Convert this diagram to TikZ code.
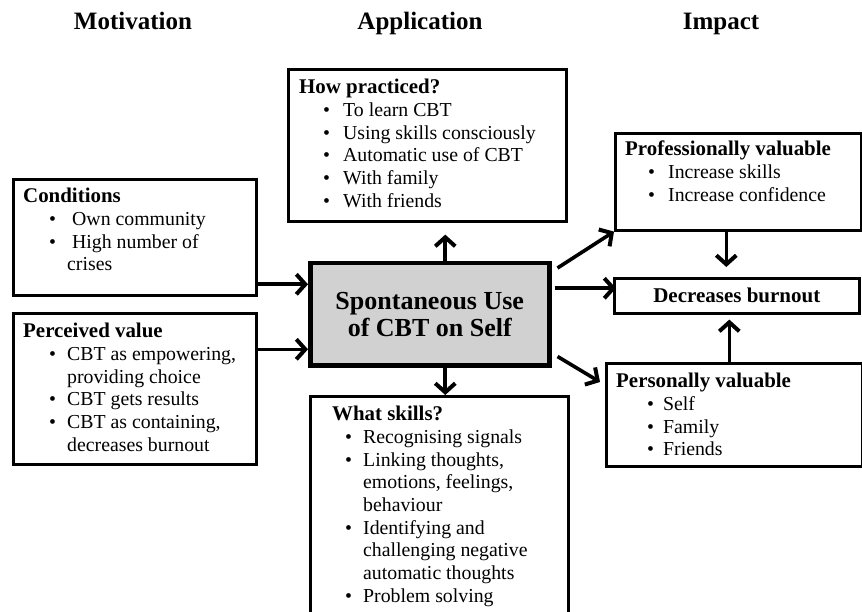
\documentclass[tikz,border=0pt]{standalone}
\usepackage{fontspec}
\setmainfont{Liberation Serif}
\usetikzlibrary{arrows.meta,calc}
\newcommand{\bul}[3]{\\\hspace*{#1pt}\makebox[#2pt][l]{\textbullet}#3}
\newcommand{\cont}[2]{\\\hspace*{#1pt}#2}
\newcommand{\ttl}[1]{{\fontsize{20.9}{22.7}\selectfont\bfseries #1}}
\tikzset{arr/.style={line width=3.6pt, -{Straight Barb[length=9pt,width=20pt,line width=4pt]}}}

\begin{document}
\begin{tikzpicture}[x=1pt, y=-1pt,
  box/.style={draw, line width=2.6pt, anchor=north west, inner sep=0pt},
  txt/.style={anchor=north west, inner sep=0pt, align=left, font=\fontsize{19.8}{22.7}\selectfont},
  head/.style={anchor=base, font=\fontsize{25}{30}\selectfont\bfseries}]
\useasboundingbox (0,0) rectangle (862,612);

\node[head] (mot) at (133,30) {Motivation};
\node[head] (app) at (420,30) {Application};
\node[head] (imp) at (721,30) {Impact};

\node[box, minimum width=243pt, minimum height=116pt] (cond) at (12,178) {};
\node[box, minimum width=243pt, minimum height=151pt] (perc) at (12,312) {};
\node[box, minimum width=278pt, minimum height=152pt] (prac) at (287,68) {};
\node[box, minimum width=258pt, minimum height=245pt] (skil) at (309,395) {};
\node[box, minimum width=246pt, minimum height=97pt] (prof) at (614,132) {};
\node[box, minimum width=256pt, minimum height=103pt] (pers) at (605,362) {};
\node[box, minimum width=245pt, minimum height=35pt,
  font=\fontsize{21}{22.7}\selectfont\bfseries] (burn) at (613,277) {Decreases burnout};
\node[box, line width=4.5pt, fill=black!18, minimum width=239pt, minimum height=102pt,
  align=center, font=\fontsize{26}{27}\selectfont\bfseries] (self) at (308,261) {Spontaneous Use\\of CBT on Self};

\node[txt] (condt) at (23,188) {\ttl{Conditions}\bul{26}{23}{Own community}\bul{26}{23}{High number of}\cont{44}{crises}};
\node[txt] (perct) at (23,323) {\ttl{Perceived value}\bul{26}{18}{CBT as empowering,}\cont{44}{providing choice}\bul{26}{18}{CBT gets results}\bul{26}{18}{CBT as containing,}\cont{44}{decreases burnout}};
\node[txt] (pract) at (299,79) {\ttl{How practiced?}\bul{24}{20}{To learn CBT}\bul{24}{20}{Using skills consciously}\bul{24}{20}{Automatic use of CBT}\bul{24}{20}{With family}\bul{24}{20}{With friends}};
\node[txt] (skilt) at (332,406) {\ttl{What skills?}\bul{13}{18}{Recognising signals}\bul{13}{18}{Linking thoughts,}\cont{31}{emotions, feelings,}\cont{31}{behaviour}\bul{13}{18}{Identifying and}\cont{31}{challenging negative}\cont{31}{automatic thoughts}\bul{13}{18}{Problem solving}};
\node[txt] (proft) at (625,141) {\ttl{Professionally valuable}\bul{23}{20}{Increase skills}\bul{23}{20}{Increase confidence}};
\node[txt] (perst) at (616,373) {\ttl{Personally valuable}\bul{31}{16}{Self}\bul{31}{16}{Family}\bul{31}{16}{Friends}};

\draw[arr] ([yshift=-47pt]cond.east) -- ([yshift=-47pt]cond.east -| self.west);
\draw[arr] ([yshift=39.5pt]perc.east) -- ([yshift=39.5pt]perc.east -| self.west);
\draw[arr, shorten >=12pt] ([xshift=15.5pt]self.north) -- ([xshift=15.5pt]self.north |- prac.south);
\draw[arr] ([xshift=15.5pt]self.south) -- ([xshift=15.5pt]self.south |- skil.north);
\draw[arr] ([shift={(6pt,-7pt)}]self.north east) -- (prof.south west);
\draw[arr] ([shift={(3pt,26pt)}]self.east) -- ([shift={(3pt,26pt)}]self.east -| burn.west);
\draw[arr] ([shift={(6pt,11pt)}]self.south east) -- ([shift={(-5pt,-20pt)}]pers.north west);
\draw[arr, shorten >=10pt] ([xshift=-12pt]prof.south) -- ([xshift=-12pt]prof.south |- burn.north);
\draw[arr, shorten >=5pt] ([xshift=-5pt]pers.north) -- ([xshift=-5pt]pers.north |- burn.south);

\end{tikzpicture}
\end{document}
